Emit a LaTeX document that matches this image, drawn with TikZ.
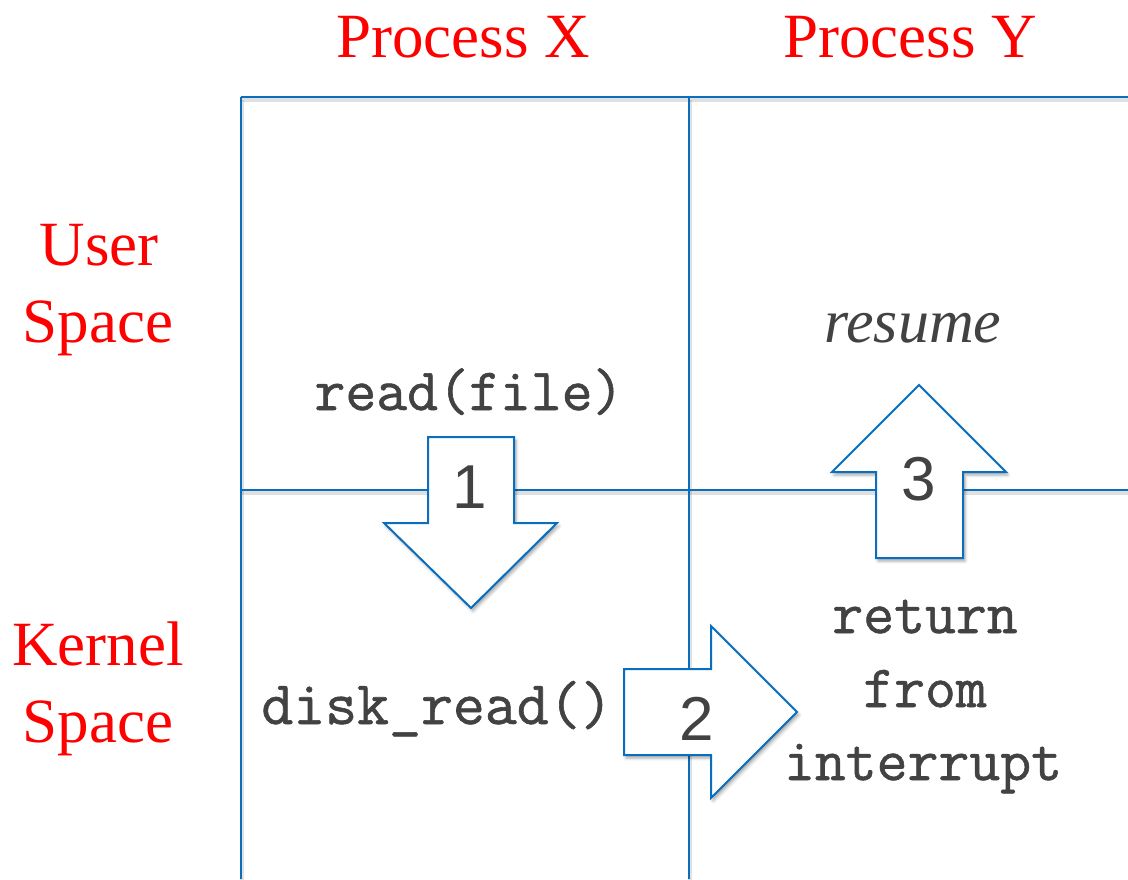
\documentclass[tikz,border=0pt]{standalone}
\usepackage{fontspec}
\setmainfont{Liberation Serif}
\newfontfamily\numfont{Liberation Sans}
\newfontfamily\codefont[FakeBold=1.0]{Latin Modern Mono}
\usetikzlibrary{shadows.blur}
\definecolor{gridblue}{RGB}{10,110,190}
\definecolor{codegray}{RGB}{66,66,66}
\definecolor{labelred}{RGB}{255,0,0}
\begin{document}
\begin{tikzpicture}[x=1pt,y=-1pt,
  gridline/.style={draw=gridblue,line width=2pt},
  gridshadow/.style={draw=black,opacity=0.12,line width=4pt},
  blockarrow/.style={draw=gridblue,line width=2pt,fill=white,line join=miter,
    blur shadow={shadow xshift=2pt,shadow yshift=-3pt,shadow blur radius=3pt,shadow opacity=35}},
  heading/.style={text=labelred,font=\fontsize{63}{63}\selectfont,anchor=base,inner sep=0pt},
  codetext/.style={text=codegray,font=\codefont\fontsize{60}{60}\selectfont,anchor=base,inner sep=0pt},
  stepnum/.style={text=codegray,font=\numfont\fontsize{62}{62}\selectfont,anchor=base,inner sep=0pt}]
\useasboundingbox (0,0) rectangle (1128,879);

% grid, with a faint shadow under each line
\foreach \a/\b/\c/\d in {241/97/1128/97, 241/490/1128/490, 241/97/241/879, 689/97/689/879}{
  \draw[gridshadow] (\a+1,\b+3) -- (\c+1,\d+3);
}
\coordinate (tl) at (241,97);
\coordinate (tm) at (689,97);
\coordinate (tr) at (1128,97);
\coordinate (ml) at (241,490);
\coordinate (mr) at (1128,490);
\coordinate (bl) at (241,879);
\coordinate (bm) at (689,879);
\draw[gridline] (tl) -- (tr);
\draw[gridline] (ml) -- (mr);
\draw[gridline] (tl) -- (bl);
\draw[gridline] (tm) -- (bm);

% block arrows
\draw[blockarrow] (428,437) -- (514,437) -- (514,523) -- (557,523) -- (471,608)
  -- (384,523) -- (428,523) -- cycle;
\draw[blockarrow] (624,669) -- (711,669) -- (711,626) -- (797,712) -- (711,798)
  -- (711,755) -- (624,755) -- cycle;
\draw[blockarrow] (876,558) -- (876,472) -- (832,472) -- (919,385) -- (1006,472)
  -- (963,472) -- (963,558) -- cycle;

\node[stepnum] (n1) at (470,508) {1};
\node[stepnum] (n2) at (697,740) {2};
\node[stepnum] (n3) at (919,500) {3};

% column and row headings
\node[heading] (px) at (463,57) {Process X};
\node[heading] (py) at (910,57) {Process Y};
\node[heading] (us1) at (99,265) {User};
\node[heading] (us2) at (98,342) {Space};
\node[heading] (ks1) at (98,665) {Kernel};
\node[heading] (ks2) at (98,742) {Space};

% cell contents
\node[heading,text=codegray,font=\itshape\fontsize{62}{62}\selectfont] (resume) at (913,342) {resume};
\node[codetext] (rf) at (469,410) {read(file)};
\node[codetext,font=\codefont\fontsize{62}{62}\selectfont] (dr) at (437,724) {disk\_read()};
\node[codetext] (ret1) at (925,633) {return};
\node[codetext] (ret2) at (925,707) {from};
\node[codetext] (ret3) at (923,780) {interrupt};
\end{tikzpicture}
\end{document}
